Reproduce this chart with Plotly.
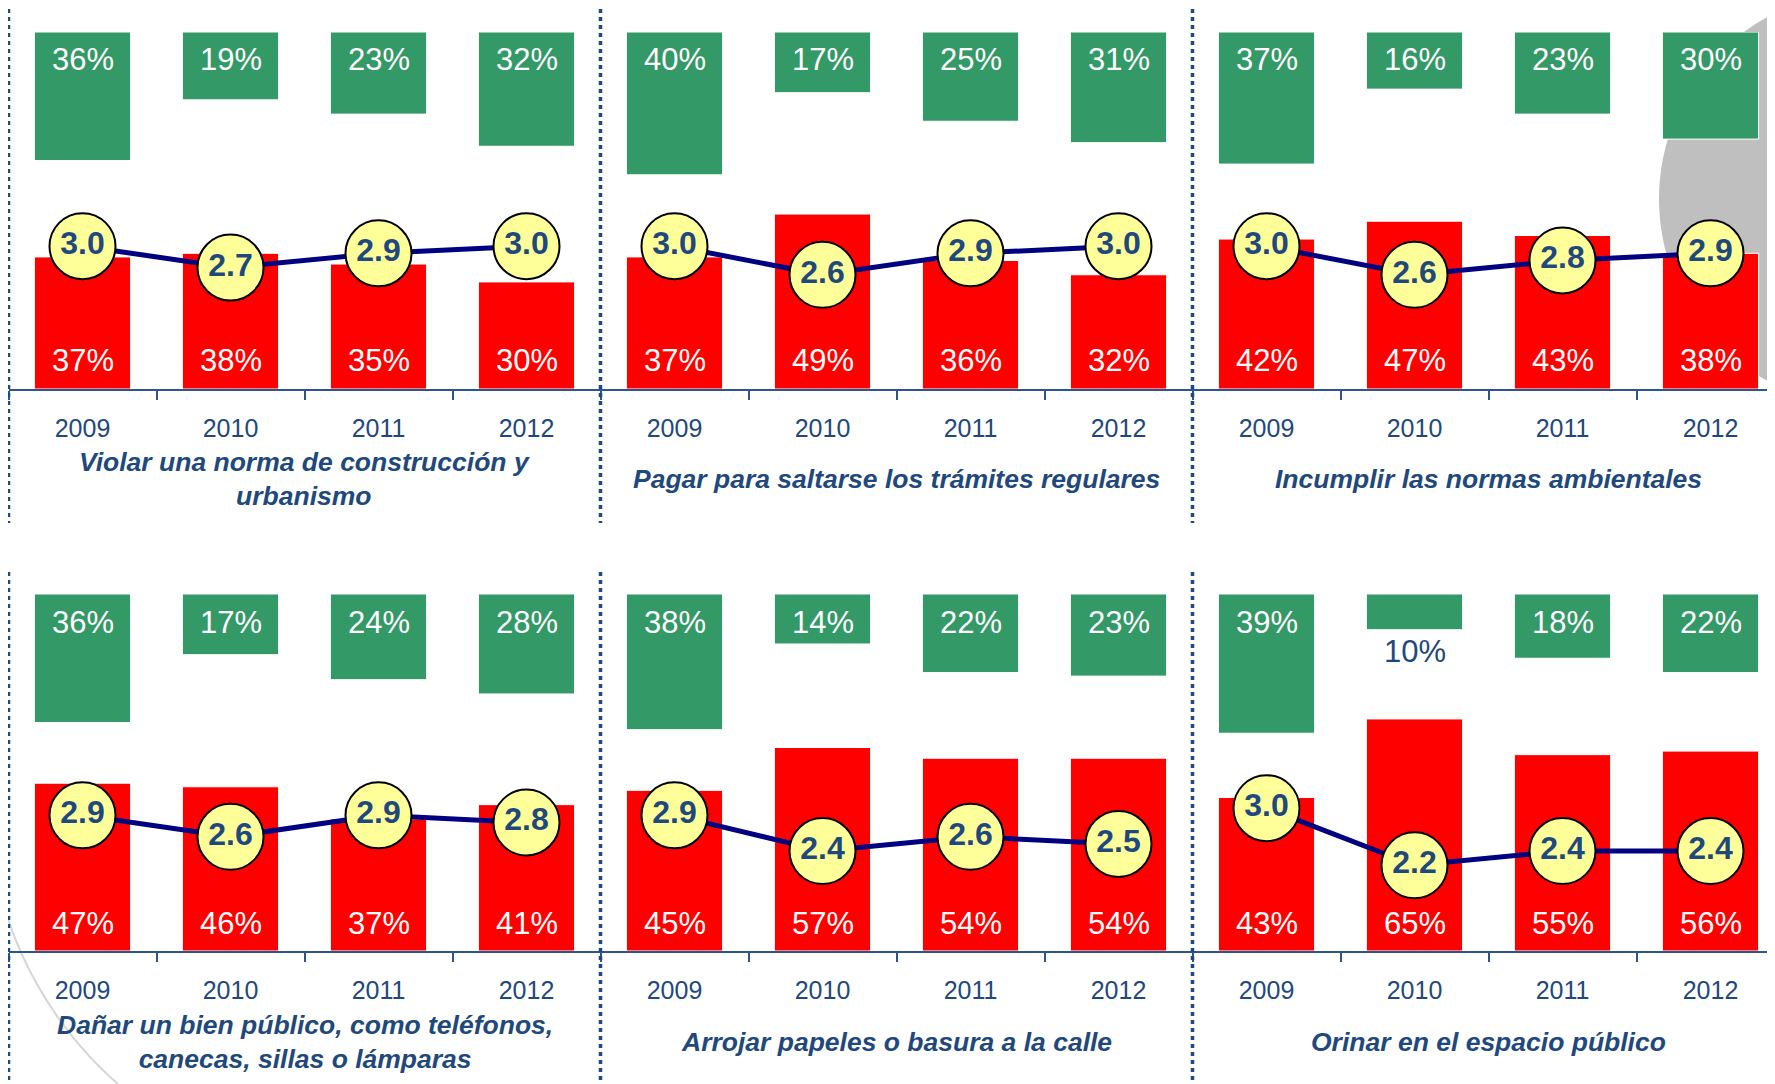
import numpy as np
import plotly.graph_objects as go

# The page body has an 8px margin, so the figure is offset by 8px.
OFF = 8
W, H = 1775 - OFF, 1084 - OFF

# ---------------- data ----------------
years = ["2009", "2010", "2011", "2012"]

titles = [
    "Violar una norma de construcción y<br>urbanismo",
    "Pagar para saltarse los trámites regulares",
    "Incumplir las normas ambientales",
    "Dañar un bien público, como teléfonos,<br>canecas, sillas o lámparas",
    "Arrojar papeles o basura a la calle",
    "Orinar en el espacio público",
]

red_construccion = [37, 38, 35, 30]
red_tramites = [37, 49, 36, 32]
red_ambientales = [42, 47, 43, 38]
red_bien_publico = [47, 46, 37, 41]
red_basura = [45, 57, 54, 54]
red_orinar = [43, 65, 55, 56]

green_construccion = [36, 19, 23, 32]
green_tramites = [40, 17, 25, 31]
green_ambientales = [37, 16, 23, 30]
green_bien_publico = [36, 17, 24, 28]
green_basura = [38, 14, 22, 23]
green_orinar = [39, 10, 18, 22]

score_construccion = [3.0, 2.7, 2.9, 3.0]
score_tramites = [3.0, 2.6, 2.9, 3.0]
score_ambientales = [3.0, 2.6, 2.8, 2.9]
score_bien_publico = [2.9, 2.6, 2.9, 2.8]
score_basura = [2.9, 2.4, 2.6, 2.5]
score_orinar = [3.0, 2.2, 2.4, 2.4]

reds = [red_construccion, red_tramites, red_ambientales,
        red_bien_publico, red_basura, red_orinar]
greens = [green_construccion, green_tramites, green_ambientales,
          green_bien_publico, green_basura, green_orinar]
scores = [score_construccion, score_tramites, score_ambientales,
          score_bien_publico, score_basura, score_orinar]

# ---------------- style ----------------
FONT = "Arial, Liberation Sans, sans-serif"
RED = "#FF0000"
GREEN = "#339966"
YELLOW = "#FFFF99"
NAVY = "#000080"
DARK_BLUE = "#1F497D"
AXIS_BLUE = "#2E5590"
GREY = "#BFBFBF"

# geometry in reference-screen pixels
col_edges = [8.5, 600.5, 1192.5]
col_width = 592.0
row_axis_px = [389, 951]
row_top_px = [32, 594]
row_title_px = [479, 1042]
row_dot_px = [(9, 523), (572, 1084)]
SCREEN_W = 1775


def px_x(p):
    return (p - OFF) / W


def px_y(p):
    return 1 - (p - OFF) / H


def ax_name(prefix, i):
    return prefix if i == 1 else f"{prefix}{i}"


fig = go.Figure()
layout = dict(
    width=W, height=H,
    margin=dict(l=0, r=0, t=0, b=0),
    paper_bgcolor="white",
    plot_bgcolor="rgba(0,0,0,0)",
    showlegend=False,
    barmode="overlay",
    font=dict(family=FONT),
)
annotations = []
shapes = []

for k in range(6):
    r, c = divmod(k, 3)
    xa = ax_name("x", k + 1)
    ya = ax_name("y", k + 1)
    ya2 = ax_name("y", k + 7)
    left = col_edges[c]
    right = left + col_width
    dom_right = min(1.0, px_x(right))
    range_right = -0.5 + 4 * (min(right, SCREEN_W) - left) / col_width

    layout[f"xaxis{k+1}"] = dict(
        domain=[max(0.0, px_x(left)), dom_right],
        anchor=ya,
        type="category",
        categoryorder="array",
        categoryarray=years,
        range=[-0.5, range_right],
        tickson="boundaries",
        ticks="outside",
        ticklen=9,
        tickwidth=2,
        tickcolor=AXIS_BLUE,
        showline=True,
        linecolor=AXIS_BLUE,
        linewidth=2,
        showgrid=False,
        tickfont=dict(size=25, color=DARK_BLUE, family=FONT),
        ticklabelstandoff=16,
        fixedrange=True,
    )
    ydom = [px_y(row_axis_px[r]), px_y(row_top_px[r])]
    layout[f"yaxis{k+1}"] = dict(
        domain=ydom, anchor=xa, range=[0, 100],
        showgrid=False, zeroline=False, showticklabels=False,
        showline=False, fixedrange=True,
    )
    layout[f"yaxis{k+7}"] = dict(
        domain=ydom, anchor=xa, overlaying=ya, range=[1, 6],
        showgrid=False, zeroline=False, showticklabels=False,
        showline=False, visible=False, fixedrange=True,
    )

    red = reds[k]
    green = greens[k]
    sc = scores[k]

    fig.add_trace(go.Bar(
        x=years, y=red, base=0, width=0.65,
        marker=dict(color=RED, line=dict(color="white", width=1)),
        xaxis=xa, yaxis=ya, hoverinfo="skip",
    ))
    fig.add_trace(go.Bar(
        x=years, y=[-v for v in green], base=100, width=0.65,
        marker=dict(color=GREEN, line=dict(color="white", width=1)),
        xaxis=xa, yaxis=ya, hoverinfo="skip",
    ))
    fig.add_trace(go.Scatter(
        x=years, y=sc, mode="lines+markers+text",
        text=[f"<b>{v:.1f}</b>" for v in sc],
        textposition="middle center",
        textfont=dict(size=32, color=DARK_BLUE, family=FONT),
        line=dict(color=NAVY, width=5),
        marker=dict(size=66, color=YELLOW, line=dict(color="black", width=2)),
        xaxis=xa, yaxis=ya2, cliponaxis=False, hoverinfo="skip",
    ))

    # category axes take annotation positions as category indices
    for j in range(len(years)):
        annotations.append(dict(
            x=j, y=0, xref=xa, yref=ya, yanchor="middle", yshift=28,
            text=f"{red[j]}%", showarrow=False,
            font=dict(size=31, color="white", family=FONT),
        ))
        if green[j] >= 12:
            annotations.append(dict(
                x=j, y=100, xref=xa, yref=ya, yanchor="middle", yshift=-28,
                text=f"{green[j]}%", showarrow=False,
                font=dict(size=31, color="white", family=FONT),
            ))
        else:
            annotations.append(dict(
                x=j, y=100 - green[j], xref=xa, yref=ya, yanchor="middle",
                yshift=-22, text=f"{green[j]}%", showarrow=False,
                font=dict(size=31, color=DARK_BLUE, family=FONT),
            ))

    annotations.append(dict(
        x=px_x(left + col_width / 2), y=px_y(row_title_px[r]),
        xref="paper", yref="paper", xanchor="center", yanchor="middle",
        text=titles[k], showarrow=False,
        font=dict(size=26.5, color=DARK_BLUE, family=FONT,
                  weight="bold", style="italic"),
    ))

# dotted separators
for r in range(2):
    y0, y1 = row_dot_px[r]
    for xe in col_edges:
        shapes.append(dict(
            type="line", xref="paper", yref="paper",
            x0=px_x(xe), x1=px_x(xe), y0=px_y(y0), y1=px_y(y1),
            line=dict(color=DARK_BLUE, width=3.5, dash="4px,4px"),
            layer="above",
        ))

# decorative background: grey disk (top right) and faint arc (bottom left)
cx, cy, rad = 1866, 199, 207
shapes.append(dict(
    type="circle", xref="paper", yref="paper",
    x0=px_x(cx - rad), x1=px_x(cx + rad),
    y0=px_y(cy + rad), y1=px_y(cy - rad),
    fillcolor=GREY, line=dict(width=0), layer="below",
))
acx, acy, ar = 370, 797, 382
ts = np.linspace(np.pi - np.arcsin((892 - acy) / ar),
                 np.pi - np.arcsin((1084 - acy) / ar), 40)
pts = [(acx + ar * np.cos(t), acy + ar * np.sin(t)) for t in ts]
path = "M " + " L ".join(f"{px_x(x):.5f},{px_y(y):.5f}" for x, y in pts)
shapes.append(dict(
    type="path", xref="paper", yref="paper", path=path,
    line=dict(color="#D6D6D6", width=2), layer="below",
))

layout["annotations"] = annotations
layout["shapes"] = shapes
fig.update_layout(**layout)

fig.write_html("out.html")
